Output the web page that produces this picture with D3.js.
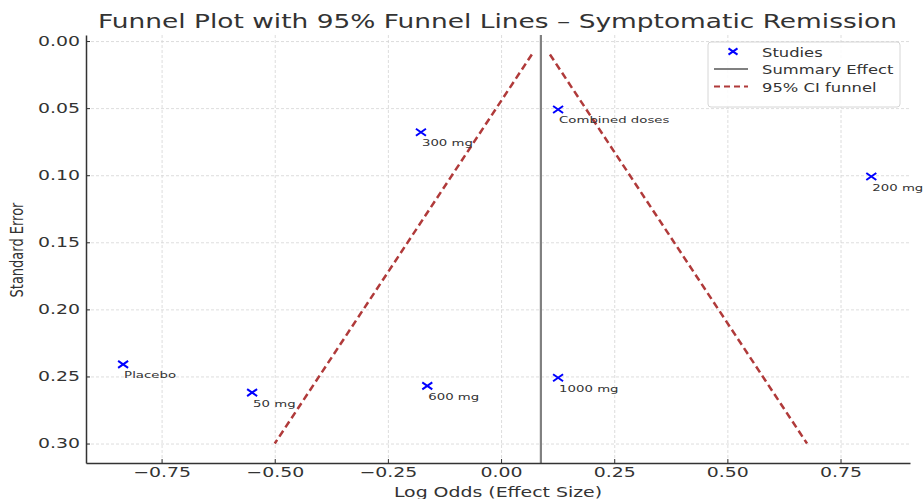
<!DOCTYPE html>
<html>
<head>
<meta charset="utf-8">
<script src="https://cdn.jsdelivr.net/npm/d3@7"></script>
<style>
  body { margin: 0; background: #fff; }
  text { font-family: "DejaVu Sans", sans-serif; fill: #333; }
</style>
</head>
<body>
<svg id="chart" width="923" height="499"></svg>
<script>
// values
const studies = ["Placebo", "50 mg", "300 mg", "600 mg", "Combined doses", "1000 mg", "200 mg"];
const logOdds = [-0.835, -0.55, -0.177, -0.163, 0.126, 0.126, 0.818];
const stdErr = [0.241, 0.262, 0.068, 0.257, 0.051, 0.251, 0.101];

const summaryEffect = 0.088;
const funnelSE = [0.01, 0.30];
const funnelLower = [0.068, -0.500];
const funnelUpper = [0.108, 0.676];

const xTicks = [-0.75, -0.50, -0.25, 0.00, 0.25, 0.50, 0.75];
const yTicks = [0.00, 0.05, 0.10, 0.15, 0.20, 0.25, 0.30];

const title = "Funnel Plot with 95% Funnel Lines \u2013 Symptomatic Remission";
const xLabel = "Log Odds (Effect Size)";
const yLabel = "Standard Error";
const legendItems = ["Studies", "Summary Effect", "95% CI funnel"];

// the source picture is stretched sideways, so text gets a horizontal scale
const SX = 1.4;
const margin = { top: 35, right: 13, bottom: 36, left: 86 };

const svg = d3.select('#chart');
const width = +svg.attr('width');
const height = +svg.attr('height');
const innerWidth = width - margin.left - margin.right;
const innerHeight = height - margin.top - margin.bottom;

const xScale = d3.scaleLinear()
  .domain([-0.917, 0.9035])
  .range([0, innerWidth]);

const yScale = d3.scaleLinear()
  .domain([-0.0045, 0.3145])
  .range([0, innerHeight]);

const g = svg.append('g')
  .attr('transform', `translate(${margin.left},${margin.top})`);

// grid
const gridX = g.append('g')
  .attr('transform', `translate(0,${innerHeight})`)
  .call(d3.axisBottom(xScale).tickValues(xTicks).tickSize(-innerHeight).tickFormat(''));
const gridY = g.append('g')
  .call(d3.axisLeft(yScale).tickValues(yTicks).tickSize(-innerWidth).tickFormat(''));
[gridX, gridY].forEach(gr => {
  gr.select('.domain').remove();
  gr.selectAll('.tick line')
    .attr('stroke', '#d4d4d4')
    .attr('stroke-width', 0.8)
    .attr('stroke-dasharray', '3,2');
});

// funnel lines
const lineGen = d3.line()
  .x(d => xScale(d[0]))
  .y(d => yScale(d[1]));

[funnelLower, funnelUpper].forEach(side => {
  g.append('path')
    .datum(side.map((v, i) => [v, funnelSE[i]]))
    .attr('d', lineGen)
    .attr('fill', 'none')
    .attr('stroke', '#b03a3a')
    .attr('stroke-width', 2.5)
    .attr('stroke-dasharray', '7,4');
});

// summary effect
g.append('line')
  .attr('x1', xScale(summaryEffect))
  .attr('x2', xScale(summaryEffect))
  .attr('y1', 0)
  .attr('y2', innerHeight)
  .attr('stroke', '#808080')
  .attr('stroke-width', 2.2);

// studies
const cross = (sel, s) => sel
  .attr('d', `M${-s},${-s * 0.7}L${s},${s * 0.7}M${-s},${s * 0.7}L${s},${-s * 0.7}`)
  .attr('fill', 'none')
  .attr('stroke', '#0000ff')
  .attr('stroke-width', 2);

const pts = g.selectAll('.study')
  .data(studies.map((name, i) => ({ name, x: logOdds[i], y: stdErr[i] })))
  .enter().append('g')
  .attr('class', 'study')
  .attr('transform', d => `translate(${xScale(d.x)},${yScale(d.y)})`);

pts.append('path').call(cross, 5);

pts.append('text')
  .attr('transform', `translate(1,14) scale(${SX},1)`)
  .style('font-size', '9.5px')
  .text(d => d.name);

// axes
const xAxisG = g.append('g')
  .attr('transform', `translate(0,${innerHeight})`)
  .call(d3.axisBottom(xScale).tickValues(xTicks).tickSizeInner(-4).tickSizeOuter(0)
    .tickPadding(4).tickFormat(d3.format('.2f')));

const yAxisG = g.append('g')
  .call(d3.axisLeft(yScale).tickValues(yTicks).tickSizeInner(-4).tickSizeOuter(0)
    .tickPadding(4.3).tickFormat(d3.format('.2f')));

[xAxisG, yAxisG].forEach(ax => {
  ax.select('.domain').attr('stroke', '#333').attr('stroke-width', 1.5);
  ax.selectAll('.tick line').attr('stroke', '#333');
  ax.selectAll('.tick text')
    .attr('fill', '#333')
    .style('font-size', '13.5px')
    .style('font-family', '"DejaVu Sans", sans-serif')
    .attr('transform', `scale(${SX},1)`);
});

// title and axis labels
svg.append('text')
  .attr('x', margin.left + innerWidth / 2 - 0.5)
  .attr('y', 28)
  .attr('text-anchor', 'middle')
  .attr('textLength', 799)
  .attr('lengthAdjust', 'spacingAndGlyphs')
  .style('font-size', '19px')
  .text(title);

svg.append('text')
  .attr('transform', `translate(${margin.left + innerWidth / 2},497) scale(${SX},1)`)
  .attr('text-anchor', 'middle')
  .style('font-size', '13.5px')
  .text(xLabel);

svg.append('text')
  .attr('transform', `translate(23,250) scale(${SX},1) rotate(-90)`)
  .attr('text-anchor', 'middle')
  .style('font-size', '13px')
  .text(yLabel);

// legend
const legendG = svg.append('g').attr('transform', 'translate(708,42)');
legendG.append('rect')
  .attr('width', 192)
  .attr('height', 65)
  .attr('rx', 3)
  .attr('fill', 'rgba(255,255,255,0.85)')
  .attr('stroke', '#d6d6d6');

const legendRows = legendG.selectAll('.legend-row')
  .data(legendItems)
  .enter().append('g')
  .attr('class', 'legend-row')
  .attr('transform', (d, i) => `translate(0,${9.5 + i * 17.5})`);

legendRows.each(function (d, i) {
  const row = d3.select(this);
  if (i === 0) {
    row.append('path').attr('transform', 'translate(25,0)').call(cross, 4.5);
  } else {
    row.append('line')
      .attr('x1', 6).attr('x2', 40)
      .attr('stroke', i === 1 ? '#808080' : '#b03a3a')
      .attr('stroke-width', 2)
      .attr('stroke-dasharray', i === 1 ? null : '6,4');
  }
  row.append('text')
    .attr('transform', `translate(54,5) scale(${SX},1)`)
    .style('font-size', '11.7px')
    .text(d);
});
</script>
</body>
</html>
